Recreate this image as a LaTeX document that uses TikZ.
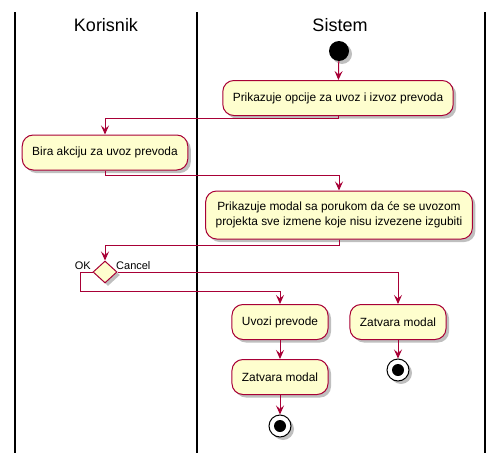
\documentclass[tikz,border=0pt]{standalone}
\usepackage{fontspec}
\setmainfont{Liberation Sans}
\usetikzlibrary{arrows.meta,shapes.geometric,shadows}
\definecolor{umlred}{HTML}{A80036}
\definecolor{umlfill}{HTML}{FEFECE}
\tikzset{
  shad/.style={drop shadow={shadow xshift=3pt,shadow yshift=-3pt,opacity=0.25,fill=black}},
  act/.style={draw=umlred,fill=umlfill,line width=1pt,rounded corners=11pt,inner xsep=10pt,inner ysep=0pt,minimum height=35pt,align=center,font=\fontsize{11.9}{15}\selectfont,shad},
  flow/.style={draw=umlred,line width=1pt,-{Stealth[length=9pt,width=8pt,inset=3.5pt]}},
  lane/.style={draw=black,line width=1.5pt},
  title/.style={font=\fontsize{18}{20}\selectfont},
  lbl/.style={font=\fontsize{11}{13}\selectfont,inner sep=0pt},
  startnode/.style={circle,fill=black,minimum size=20pt,inner sep=0pt,shad},
  endouter/.style={circle,draw=black,fill=white,line width=1pt,minimum size=22pt,inner sep=0pt,shad},
  dec/.style={diamond,draw=umlred,fill=umlfill,line width=1pt,minimum width=24pt,minimum height=22pt,inner sep=0pt,shape aspect=1.09,shad}
}
\begin{document}
\begin{tikzpicture}[x=1pt,y=-1pt]
\useasboundingbox (0,0) rectangle (503,463);
% lanes
\draw[lane] (15,12) -- (15,453);
\draw[lane] (197,12) -- (197,453);
\draw[lane] (485,12) -- (485,453);
\node[title] (tk) at (106,25) {Korisnik};
\node[title] (ts) at (340,25) {Sistem};
% nodes
\node[startnode] (st) at (339,51) {};
\node[act] (b1) at (338,98) {Prikazuje opcije za uvoz i izvoz prevoda};
\node[act] (b2) at (105,152.5) {Bira akciju za uvoz prevoda};
\node[act,minimum height=48pt] (b3) at (339,215) {Prikazuje modal sa porukom da će se uvozom\\projekta sve izmene koje nisu izvezene izgubiti};
\node[dec] (d) at (105,272) {};
\node[lbl,anchor=base east] (ok) at (91,269) {OK};
\node[lbl,anchor=base west] (cn) at (116,269) {Cancel};
\node[act] (uv) at (280,322) {Uvozi prevode};
\node[act] (zr) at (398,322) {Zatvara modal};
\node[act] (zl) at (280,377) {Zatvara modal};
\node[endouter] (e1) at (280,426) {};
\fill (e1) circle (6pt);
\node[endouter] (e2) at (398,370) {};
\fill (e2) circle (6pt);
\coordinate (c1) at (105,118);
\coordinate (c2) at (339,175);
\coordinate (c3) at (105,245);
\coordinate (okc) at (80,291);
% connectors
\draw[flow] (st) -- (b1);
\draw[flow] (b1.south) |- (c1) -- (b2.north);
\draw[flow] (b2.south) |- (c2) -- (b3.north);
\draw[flow] (b3.south) |- (c3) -- (d.north);
\draw[flow] (d.east) -| (zr.north);
\draw[flow] (d.west) -| (okc) -| (uv.north);
\draw[flow] (uv) -- (zl);
\draw[flow] (zl) -- (e1);
\draw[flow] (zr) -- (e2);
\end{tikzpicture}
\end{document}
